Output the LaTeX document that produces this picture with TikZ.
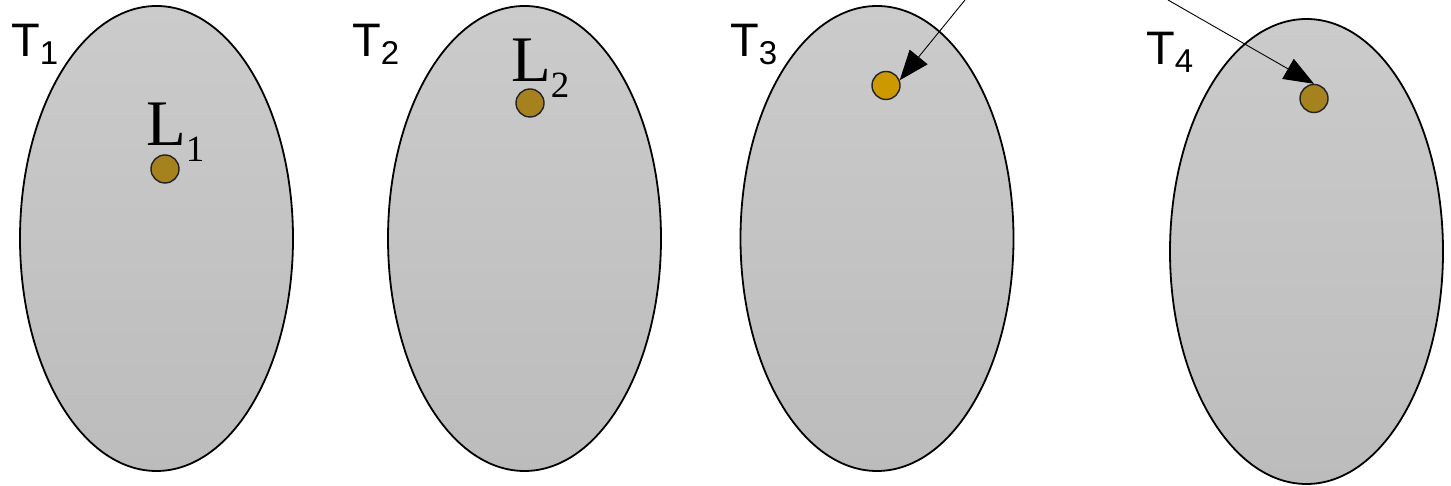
\documentclass[tikz,border=0pt]{standalone}
\usepackage{fontspec}
\usetikzlibrary{arrows.meta}
\newfontfamily\tfont{Liberation Sans}
\newfontfamily\lfont{Liberation Serif}
\definecolor{shtop}{HTML}{CBCBCB}
\definecolor{shbot}{HTML}{BCBCBC}
\definecolor{dotdull}{HTML}{A6821E}
\definecolor{dotlit}{HTML}{CC9900}
\definecolor{rim}{HTML}{222222}
\newcommand{\tsub}[1]{\raisebox{-8pt}{\fontsize{33}{33}\selectfont #1}}
\newcommand{\lsub}[1]{\raisebox{-16pt}{\fontsize{37}{37}\selectfont #1}}
\begin{document}
\begin{tikzpicture}[x=1pt,y=1pt,
  region/.style={draw=black,line width=1.8pt,top color=shtop,bottom color=shbot},
  spot/.style={circle,draw=rim,line width=1.4pt,fill=dotdull,inner sep=0pt,minimum size=28pt},
  tlab/.style={anchor=base west,inner sep=0pt,font=\tfont\fontsize{47}{47}\selectfont},
  llab/.style={anchor=base west,inner sep=0pt,font=\lfont\fontsize{65}{65}\selectfont},
  pointer/.style={line width=0.9pt,-{Triangle[length=30pt,width=23pt]}}]
\useasboundingbox (0,0) rectangle (1451,486);

\draw[region] (156.5,247.5) ellipse [x radius=136.5pt, y radius=232.5pt];
\draw[region] (524.5,247.5) ellipse [x radius=136.5pt, y radius=232.5pt];
\draw[region] (877,247.5) ellipse [x radius=136.5pt, y radius=232.5pt];
\draw[region] (1306.5,234.5) ellipse [x radius=136.5pt, y radius=232.5pt];

\node[tlab] (t1) at (11,429) {T\tsub{1}};
\node[tlab] (t2) at (352,429) {T\tsub{2}};
\node[tlab] (t3) at (730,429) {T\tsub{3}};
\node[tlab] (t4) at (1146,421) {T\tsub{4}};

\node[spot] (l1) at (165,317) {};
\node[spot] (l2) at (530,383) {};
\node[spot,fill=dotlit] (l3) at (886,400.5) {};
\node[spot] (l4) at (1314,387.5) {};

\node[llab] (n1) at (146,340) {L\lsub{1}};
\node[llab] (n2) at (511,404) {L\lsub{2}};

\coordinate (a3) at (965,486);
\coordinate (a4) at (1168,486);
\draw[pointer] (a3) -- (l3.21);
\draw[pointer] (a4) -- (l4.north);
\end{tikzpicture}
\end{document}
